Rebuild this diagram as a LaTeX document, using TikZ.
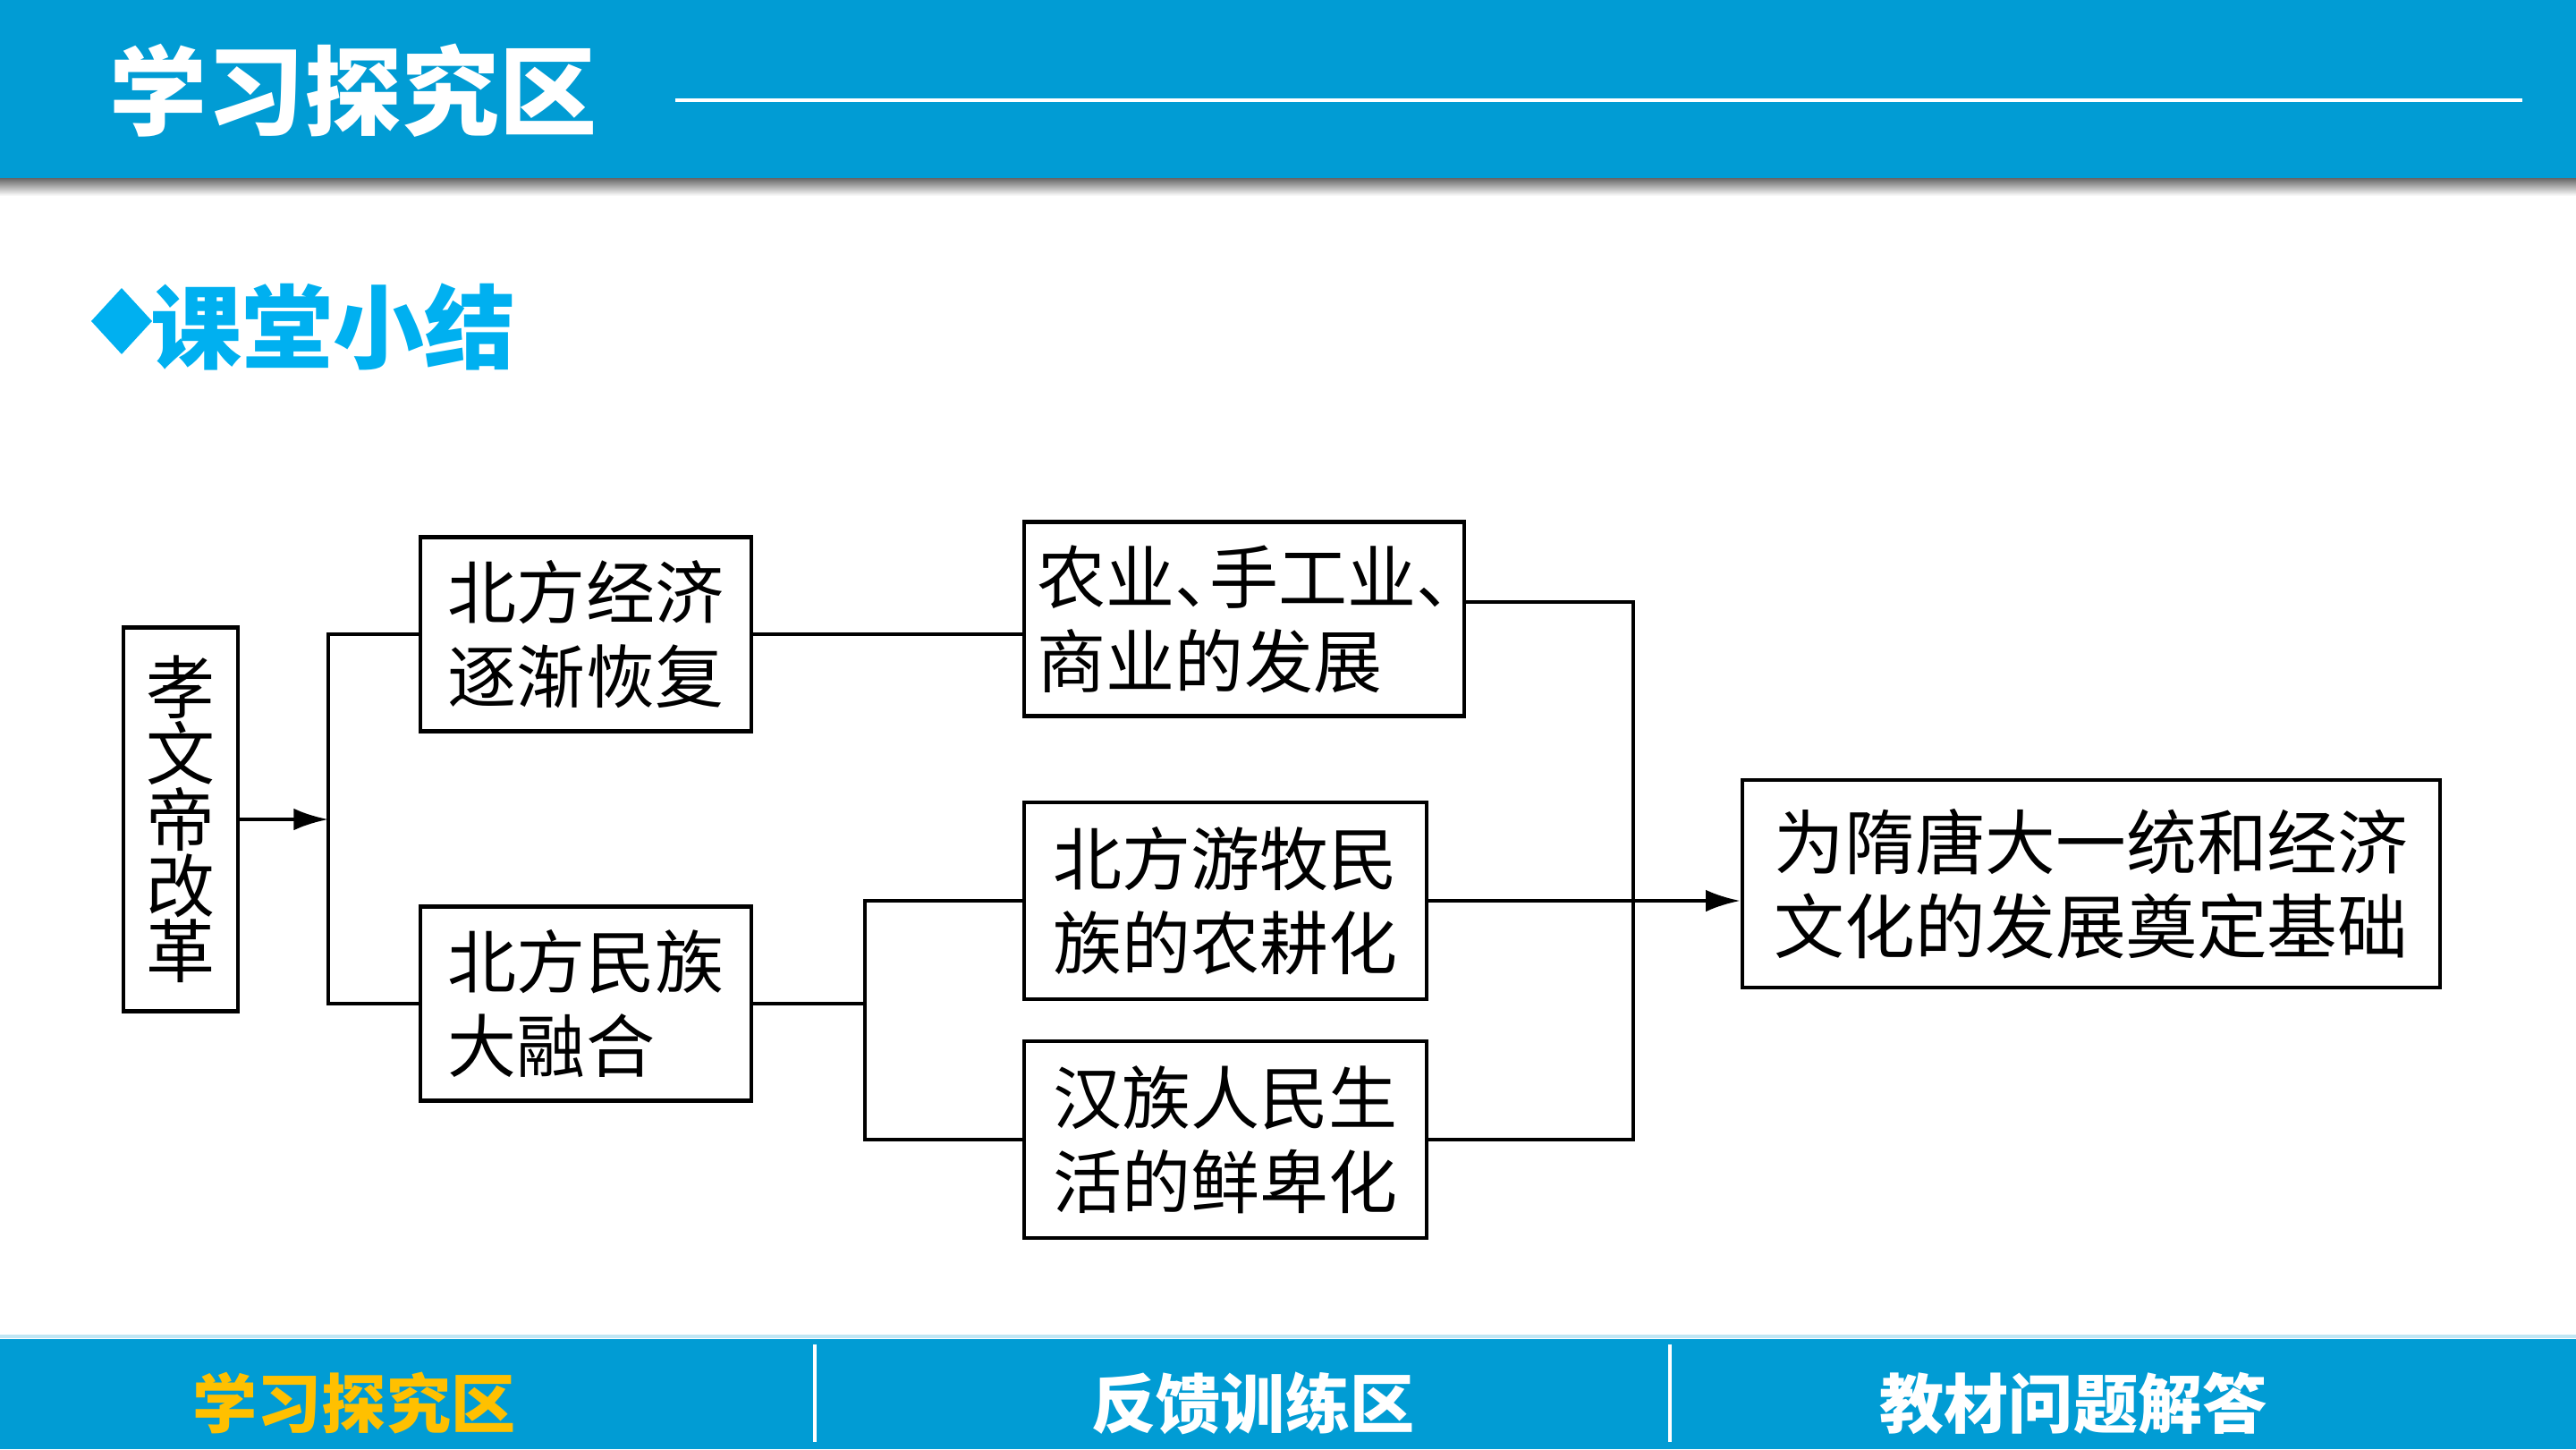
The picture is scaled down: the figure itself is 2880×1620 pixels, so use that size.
\documentclass[tikz,border=0pt]{standalone}
\usepackage{fontspec}
\setmainfont{Noto Sans CJK SC}
\usetikzlibrary{arrows.meta}
\definecolor{barblue}{HTML}{019CD4}
\definecolor{titlecyan}{HTML}{00B0F0}
\definecolor{tabyellow}{HTML}{FFC000}
\tikzset{
  kasten/.style={draw, line width=1.3pt, inner sep=0pt, align=left,
    font=\fontsize{21.9pt}{26.7pt}\selectfont},
  tab/.style={font=\bfseries\fontsize{20.5pt}{24pt}\selectfont, inner sep=0pt},
}
\newcommand{\dunhao}{\makebox[0.5em][l]{、}}
\begin{document}
\begin{tikzpicture}[x=0.01cm, y=-0.01cm, line width=1.2pt]
\useasboundingbox (0,0) rectangle (2880,1620);
% header and footer bars
\fill[barblue] (0,0) rectangle (2880,199);
\shade[top color=black!60, bottom color=white] (0,199) rectangle (2880,219);
\draw[white, line width=1pt] (755,112) -- (2820,112);
\node[font=\bfseries\fontsize{31pt}{36pt}\selectfont, text=white, inner sep=0pt] (kopf) at (395,101) {学习探究区};
\draw[barblue!25, line width=1pt] (0,1494) -- (2880,1494);
\fill[barblue] (0,1497) rectangle (2880,1620);
\draw[white, line width=1pt] (911,1503) -- (911,1612);
\draw[white, line width=1pt] (1867,1503) -- (1867,1612);
\node[tab, text=tabyellow] (t1) at (396,1569) {学习探究区};
\node[tab, text=white] (t2) at (1401,1569) {反馈训练区};
\node[tab, text=white] (t3) at (2318,1569) {教材问题解答};
% heading
\fill[titlecyan] (102,359) -- (136,322) -- (170,359) -- (136,396) -- cycle;
\node[anchor=west, font=\bfseries\fontsize{29pt}{34pt}\selectfont, text=titlecyan, inner sep=0pt] (xiaojie) at (166,365) {课堂小结};
% boxes
\node[kasten, minimum width=128*0.01cm, minimum height=429*0.01cm, align=center,
  font=\fontsize{21.9pt}{21pt}\selectfont] (gaige) at (202,916) {孝\\文\\帝\\改\\革};
\node[kasten, minimum width=370*0.01cm, minimum height=217*0.01cm] (jingji) at (655,709) {北方经济\\逐渐恢复};
\node[kasten, minimum width=370*0.01cm, minimum height=217*0.01cm] (minzu) at (655,1122) {北方民族\\大融合};
\node[kasten, minimum width=492*0.01cm, minimum height=217*0.01cm] (fazhan) at (1391,692) {农业\dunhao 手工业\dunhao\\商业的发展};
\node[kasten, minimum width=450*0.01cm, minimum height=220*0.01cm] (nonggeng) at (1370,1007) {北方游牧民\\族的农耕化};
\node[kasten, minimum width=450*0.01cm, minimum height=220*0.01cm] (xianbei) at (1370,1274) {汉族人民生\\活的鲜卑化};
\node[kasten, minimum width=780*0.01cm, minimum height=232*0.01cm,
  font=\fontsize{22.4pt}{26.9pt}\selectfont] (jichu) at (2338,988) {为隋唐大一统和经济\\文化的发展奠定基础};
% connectors
\coordinate (J1) at (367,916);
\coordinate (J2) at (967,1122);
\coordinate (J3) at (1826,692);
\draw[->, >={Latex[length=11pt,width=7pt]}] (gaige.east) -- (J1);
\draw (jingji.west) -| (J1) |- (minzu.west);
\draw (jingji.east) -- (jingji.east -| fazhan.west);
\draw (minzu.east) -- (J2);
\draw (nonggeng.west) -| (J2) |- (xianbei.west);
\draw ([yshift=0.19cm]fazhan.east) -| ([yshift=0.19cm]J3) |- (xianbei.east);
\draw[->, >={Latex[length=11pt,width=7pt]}] (nonggeng.east) -- (nonggeng.east -| jichu.west);
\end{tikzpicture}
\end{document}
